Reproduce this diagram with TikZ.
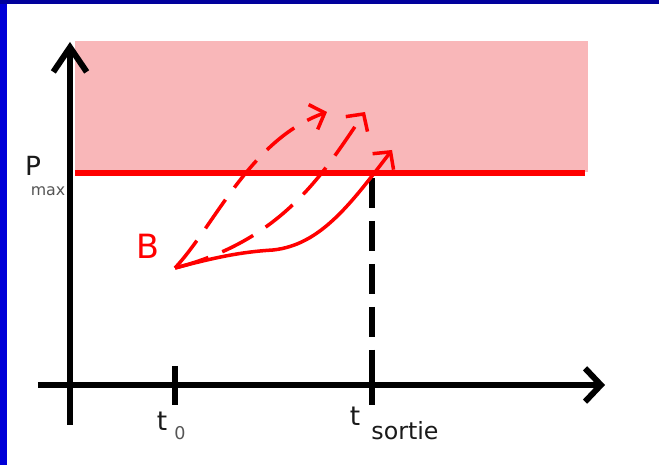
\documentclass[tikz,border=0pt]{standalone}
\usepackage{fontspec}
\setmainfont{DejaVu Sans}
\usetikzlibrary{arrows.meta,positioning}
\definecolor{framel}{HTML}{0000D8}
\definecolor{framet}{HTML}{00009C}
\definecolor{zone}{HTML}{F9B7B9}
\definecolor{pred}{HTML}{FF0000}
\definecolor{lbl}{HTML}{1A1A1A}
\definecolor{sub}{HTML}{555555}
\newcommand{\tickmark}[2]{\draw[line width=3.6pt] (#1,#2)--(#1,-0.4);}

\begin{document}
\begin{tikzpicture}[traj/.style={pred,line width=2pt,-{Straight Barb[length=7pt,width=15pt]}},
  dashtraj/.style={traj,dash pattern=on 0.7cm off 0.3cm}]
\useasboundingbox (-1.4,-1.6) rectangle (11.78,7.7);
\fill[white] (-1.4,-1.6) rectangle (11.78,7.7);
\fill[framel] (-1.4,-1.6) rectangle (-1.26,7.7);\fill[framet] (-1.4,7.62) rectangle (11.78,7.7);
\fill[zone] (0.1,4.26) rectangle (10.36,6.88);
\draw[pred,line width=3.8pt] (0.1,4.24)--(10.3,4.24);
% axes
\draw[line width=3.4pt,-{Straight Barb[length=14pt,width=19pt]}] (0,-0.8)--(0,6.86);
\draw[line width=3.4pt,-{Straight Barb[length=9pt,width=19pt]}] (-0.64,0)--(10.7,0);
\tickmark{2.1}{0.38}\tickmark{6.04}{0.7}
\draw[line width=3.8pt,dash pattern=on 0.6cm off 0.26cm] (6.04,4.14)--(6.04,0.7);
% trajectories from B
\coordinate (B) at (2.1,2.34);
\draw[dashtraj] (B) .. controls (2.9,3.2) and (3.6,4.9) .. (5.14,5.46);
\draw[dashtraj] (B) .. controls (4.3,2.9) and (5.1,4.3) .. (5.9,5.46);
\draw[traj] (B) .. controls (2.9,2.55) and (3.4,2.66) .. (4.06,2.7) .. controls (5.0,2.8) and (5.6,3.6) .. (6.44,4.7);
% labels
\node[font=\fontsize{15}{15}\selectfont,text=lbl] (pmax) at (-0.74,4.38) {P};
\node[font=\fontsize{9}{9}\selectfont,text=sub] (pmaxsub) at (-0.44,3.88) {max};
\node[font=\fontsize{15}{15}\selectfont,text=lbl] (tzero) at (1.84,-0.72) {t};
\node[font=\fontsize{10}{10}\selectfont,text=sub] (zero) at (2.2,-0.96) {0};
\node[font=\fontsize{15}{15}\selectfont,text=lbl] (tout) at (5.7,-0.62) {t};
\node[font=\fontsize{13.5}{13.5}\selectfont,text=lbl] (sortie) at (6.7,-0.92) {sortie};
\node[font=\fontsize{19}{19}\selectfont,text=pred] (blabel) at (1.56,2.78) {B};
\end{tikzpicture}
\end{document}
